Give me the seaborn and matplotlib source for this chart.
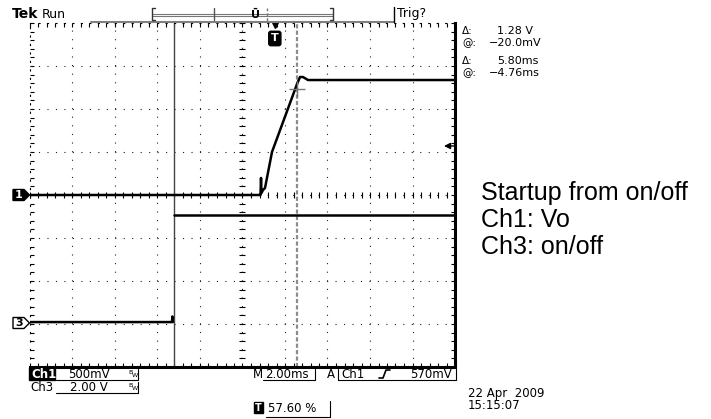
import matplotlib
matplotlib.use("Agg")
import matplotlib.pyplot as plt
import numpy as np
import pandas as pd
import seaborn as sns
from matplotlib.lines import Line2D
from matplotlib.patches import Polygon, Rectangle

OUT_PATH = "out.png"
W, H = 711, 419

# scope settings (from the readout)
CH1_SCALE = 0.5      # V/div
CH3_SCALE = 2.0      # V/div
CH1_OFFSET = 0.0     # div
CH3_OFFSET = -3.0    # div
TIME_PER_DIV = 2.0   # ms/div
TRIG_POS = 0.576     # fraction of record
TRIG_LEVEL = 0.57    # V on ch1
CURSOR1 = -4.76      # ms
CURSOR2 = CURSOR1 + 5.80
CURSOR_HIT = 1.23    # V, ch1 at cursor 2

# traces: time in ms from trigger, volts
CH1_TIME = [-11.52, -0.744, -0.673, -0.649, -0.626, -0.555, -0.461, -0.132,
            1.045, 1.186, 1.327, 1.562, 8.48]
CH1_VOLTS = [0.0, 0.0, 0.0, 0.198, 0.023, 0.058, 0.081, 0.5,
             1.29, 1.372, 1.372, 1.337, 1.337]
# ch3 is sampled in two pieces, the edge itself falls between samples
CH3_LOW_TIME = [-11.52, -4.84, -4.82, -4.80]
CH3_LOW_VOLTS = [0.09, 0.09, 0.35, 0.09]
CH3_HIGH_TIME = [-4.76, 8.48]
CH3_HIGH_VOLTS = [5.07, 5.07]

READOUT_LABELS = ["Δ:", "@:", "Δ:", "@:"]
READOUT_VALUES = ["1.28 V", "−20.0mV", "5.80ms", "−4.76ms"]
NOTE_LINES = ["Startup from on/off", "Ch1: Vo", "Ch3: on/off"]
DATE_LINES = ["22 Apr  2009", "15:15:07"]


def fx(px):
    return px / W


def fy(py):
    return 1 - py / H


def seg(fig, xs, ys, **kw):
    kw.setdefault("color", "black")
    kw.setdefault("lw", 0.8)
    fig.add_artist(Line2D([fx(x) for x in xs], [fy(y) for y in ys],
                          transform=fig.transFigure, **kw))


def label(fig, px, py, s, **kw):
    kw.setdefault("fontsize", 8.5)
    kw.setdefault("va", "center")
    kw.setdefault("family", "DejaVu Sans")
    kw.setdefault("color", "black")
    fig.text(fx(px), fy(py), s, **kw)


def box(fig, x0, y0, x1, y1, **kw):
    fig.add_artist(Rectangle((fx(x0), fy(y1)), (x1 - x0) / W, (y1 - y0) / H,
                             transform=fig.transFigure, **kw))


def chan_marker(fig, py, s, filled):
    pts = [(13, py - 5.5), (24, py - 5.5), (29.5, py), (24, py + 5.5), (13, py + 5.5)]
    fig.add_artist(Polygon([(fx(x), fy(y)) for x, y in pts], closed=True,
                           transform=fig.transFigure, lw=1, ec="black",
                           fc="black" if filled else "white"))
    label(fig, 19, py, s, ha="center", fontsize=8, fontweight="bold",
          color="white" if filled else "black")


def trace_frame(times, volts, channel, piece, scale, offset):
    df = pd.DataFrame({"time": times, "volts": volts})
    df["channel"] = channel
    df["piece"] = piece
    df["div"] = df["volts"] / scale + offset
    return df


def main():
    sns.set_theme(style="white")
    plt.rcParams["font.family"] = ["DejaVu Sans"]
    plt.rcParams["text.color"] = "black"
    plt.rcParams["lines.scale_dashes"] = False

    traces = pd.concat([
        trace_frame(CH1_TIME, CH1_VOLTS, "Ch1", "ch1", CH1_SCALE, CH1_OFFSET),
        trace_frame(CH3_LOW_TIME, CH3_LOW_VOLTS, "Ch3", "ch3_low", CH3_SCALE, CH3_OFFSET),
        trace_frame(CH3_HIGH_TIME, CH3_HIGH_VOLTS, "Ch3", "ch3_high", CH3_SCALE, CH3_OFFSET),
    ], ignore_index=True)

    fig = plt.figure(figsize=(W / 100, H / 100), dpi=100)
    fig.patch.set_facecolor("white")
    ax = fig.add_axes([fx(30), fy(367), 425 / W, 344 / H])
    ax.set_facecolor("white")

    t0 = -TRIG_POS * 10 * TIME_PER_DIV
    t1 = t0 + 10 * TIME_PER_DIV
    major_t = t0 + TIME_PER_DIV * np.arange(11)
    minor_t = t0 + TIME_PER_DIV / 5 * np.arange(51)
    major_y = np.arange(-4, 5)
    minor_y = np.linspace(-4, 4, 41)
    center_t = t0 + 5 * TIME_PER_DIV

    # graticule
    ax.vlines(major_t[1:-1], -4, 4, color="#222222", lw=0.8,
              linestyles=[(0, (0.8, 5.4))], zorder=1)
    ax.hlines(major_y[1:-1], t0, t1, color="#222222", lw=0.8,
              linestyles=[(0, (0.8, 5.3))], zorder=1)
    ax.plot(minor_t, np.zeros_like(minor_t), ls="none", marker="|", ms=4,
            mew=0.8, color="black", zorder=1)
    ax.plot(np.full_like(minor_y, center_t), minor_y, ls="none", marker="_",
            ms=4, mew=0.8, color="black", zorder=1)

    # cursors
    ax.axvline(CURSOR1, color="#444444", lw=1.0, zorder=2)
    ax.axvline(CURSOR2, color="#8c8c8c", lw=1.6, ls=(0, (3, 1.6)), zorder=2)

    sns.lineplot(data=traces, x="time", y="div", hue="channel", units="piece",
                 palette={"Ch1": "black", "Ch3": "black"}, estimator=None,
                 sort=False, lw=1.8, legend=False, ax=ax, zorder=3)

    ax.plot([CURSOR2], [CURSOR_HIT / CH1_SCALE + CH1_OFFSET], marker="+",
            ms=11, mew=1.0, color="#777777", zorder=4)

    # trigger level arrow on the right edge
    trig_y = TRIG_LEVEL / CH1_SCALE + CH1_OFFSET
    ax.annotate("", xy=(t1 - 0.52, trig_y), xytext=(t1, trig_y),
                arrowprops=dict(arrowstyle="-|>", color="black", lw=1,
                                mutation_scale=9, shrinkA=0, shrinkB=0),
                annotation_clip=False, zorder=5)

    # trigger position marker
    ax.plot([0], [3.95], marker="v", ms=5, color="black", clip_on=False, zorder=5)
    ax.text(0, 3.64, "T", ha="center", va="center", color="white",
            fontsize=8, fontweight="bold", zorder=5,
            bbox=dict(boxstyle="round,pad=0.2", fc="black", ec="black"))

    ax.set_xlim(t0, t1)
    ax.set_ylim(-4, 4)
    ax.set_xlabel("")
    ax.set_ylabel("")
    ax.set_xticks(major_t)
    ax.set_xticks(minor_t, minor=True)
    ax.set_yticks(major_y)
    ax.set_yticks(minor_y, minor=True)
    ax.tick_params(which="both", direction="in", length=3, width=0.8,
                   color="black", top=True, right=True, bottom=True, left=True,
                   labelbottom=False, labelleft=False)
    for side in ["top", "left"]:
        ax.spines[side].set_color("black")
        ax.spines[side].set_linewidth(0.8)
        ax.spines[side].set_linestyle((0, (0.8, 5.3)))
    for side in ["bottom", "right"]:
        ax.spines[side].set_color("black")
        ax.spines[side].set_linewidth(2.2)

    # channel ground markers
    chan_marker(fig, 195 - CH1_OFFSET * 43, "1", True)
    chan_marker(fig, 195 - CH3_OFFSET * 43 - 1, "3", False)

    # top status bar
    label(fig, 12, 14, "Tek", fontsize=10, fontweight="bold")
    label(fig, 42, 14, "Run", fontsize=9)
    seg(fig, [91, 394], [22, 22], color="#808080", lw=1.5)
    seg(fig, [394, 394], [7, 22], lw=1)
    label(fig, 397, 14, "Trig?", fontsize=9)
    seg(fig, [152, 333], [14, 14], color="#777777", lw=0.8)
    seg(fig, [152, 333], [16, 16], color="#777777", lw=0.8)
    seg(fig, [155, 152, 152, 155], [8, 8, 20, 20], color="#333333", lw=1)
    seg(fig, [330, 333, 333, 330], [8, 8, 20, 20], color="#333333", lw=1)
    seg(fig, [214, 214], [8, 20], color="#555555", lw=1)
    seg(fig, [267, 267], [8, 22], color="#777777", lw=1, ls=(0, (2, 1.5)))
    label(fig, 255, 15, "Ū", ha="center", fontsize=8, fontweight="bold")

    # cursor readout
    readout_y = [31, 43.5, 61, 73.5]
    for py, lab, val in zip(readout_y, READOUT_LABELS, READOUT_VALUES):
        label(fig, 462, py, lab, fontsize=7.5)
        label(fig, 489 if val.startswith("−") else 497, py, val, fontsize=8)

    # bottom readout
    box(fig, 29, 368, 55, 380, fc="black", ec="black")
    label(fig, 31, 374, "Ch1", color="white", fontweight="bold")
    label(fig, 68, 374, "500mV")
    label(fig, 30, 387, "Ch3")
    label(fig, 70, 387, "2.00 V")
    for py in [374, 387]:
        label(fig, 128, py - 2, "B", fontsize=4.5)
        label(fig, 132, py + 1, "W", fontsize=4.5)
        seg(fig, [56, 138, 138], [py + 6, py + 6, py - 5])

    label(fig, 253, 374, "M")
    label(fig, 265, 374, "2.00ms")
    seg(fig, [263, 315, 315], [380, 380, 369])
    label(fig, 327, 374, "A")
    seg(fig, [338, 338, 456, 456], [369, 380, 380, 369])
    label(fig, 341, 374, "Ch1")
    seg(fig, [379, 383, 386, 390], [378, 378, 370, 370], lw=1.2)
    label(fig, 410, 374, "570mV")

    box(fig, 254, 402, 263, 413, fc="black", ec="black")
    label(fig, 258.5, 407.5, "T", ha="center", color="white", fontsize=7,
          fontweight="bold")
    label(fig, 268, 408, "57.60 %")
    seg(fig, [266, 330, 330], [417, 417, 401])

    label(fig, 468, 393, DATE_LINES[0])
    label(fig, 468, 405, DATE_LINES[1])

    # annotation
    for i, line in enumerate(NOTE_LINES):
        fig.text(fx(481), fy(200 + 27 * i), line, fontsize=18, color="black",
                 family="Liberation Sans", va="baseline", ha="left")

    fig.savefig(OUT_PATH, dpi=100, facecolor="white")
    plt.close(fig)


if __name__ == "__main__":
    main()
